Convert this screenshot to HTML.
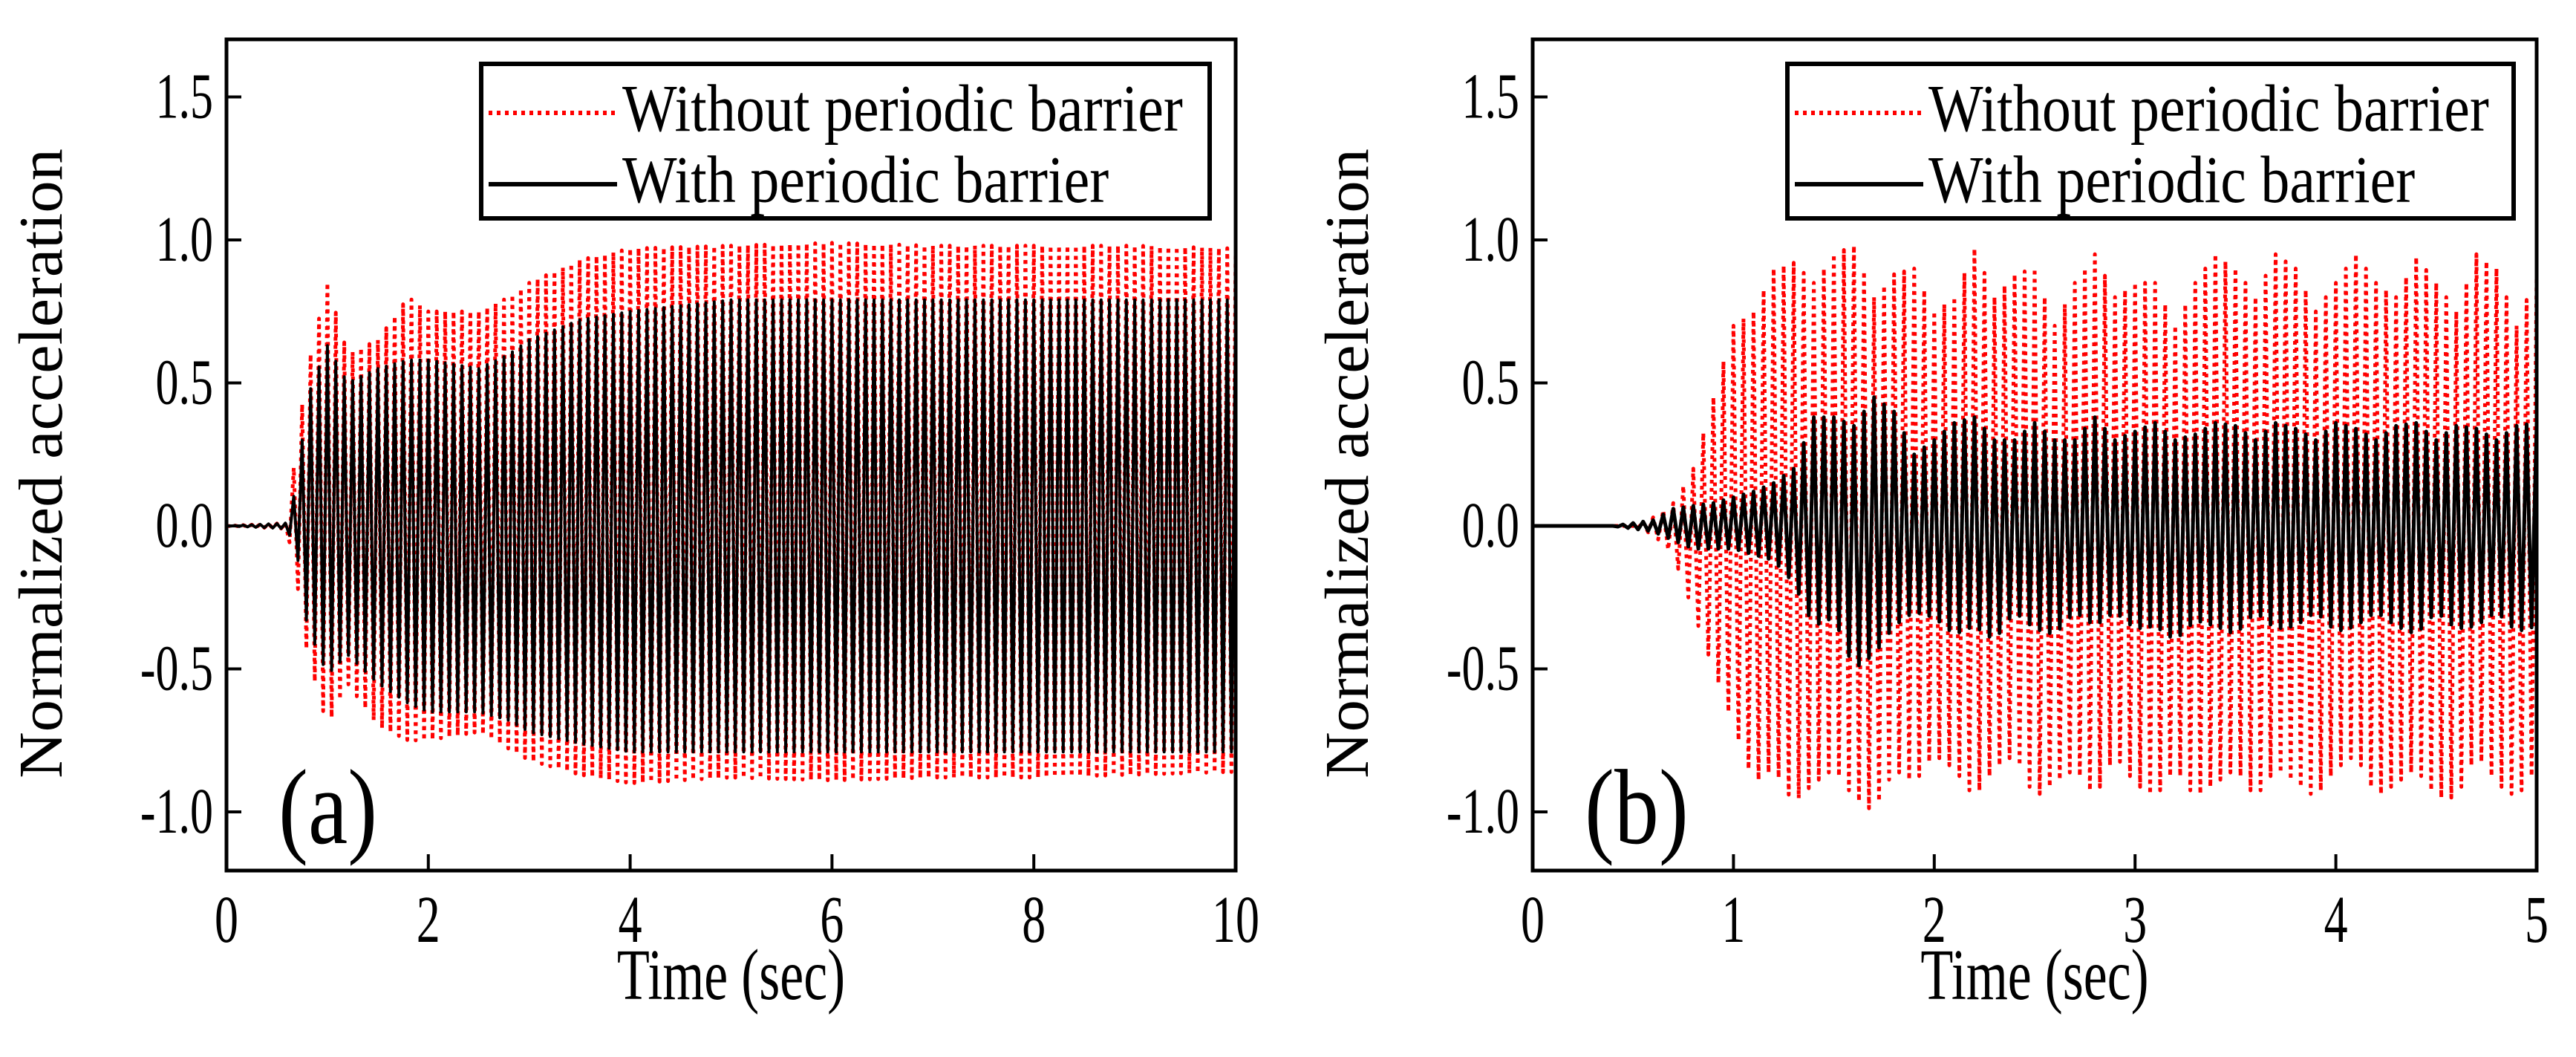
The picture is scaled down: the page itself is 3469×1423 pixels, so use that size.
<!DOCTYPE html>
<html><head><meta charset="utf-8"><style>
html,body{margin:0;padding:0;background:#fff;}
svg{display:block;font-family:"Liberation Serif",serif;}
</style></head><body>
<svg id="fig" width="3469" height="1423" viewBox="0 0 3469 1423" xmlns="http://www.w3.org/2000/svg"></svg>
<script>
// ---- Panel (a) data: envelopes (time in s, normalized acceleration) ----
const aTimes      = [0,0.6,0.7,0.8,1.0,1.2,1.5,1.8,2.0,2.5,2.8,3.0,3.5,4.0,5.0,6.0,7.0,8.0,9.0,10.0];
const aRedUpper   = [0,0.01,0.3,0.55,0.85,0.6,0.65,0.8,0.75,0.75,0.8,0.85,0.93,0.97,0.98,0.99,0.98,0.98,0.98,0.97];
const aRedLower   = [0,-0.01,-0.2,-0.45,-0.7,-0.55,-0.7,-0.75,-0.75,-0.72,-0.78,-0.82,-0.87,-0.9,-0.88,-0.89,-0.88,-0.88,-0.87,-0.86];
const aBlkUpper   = [0,0.01,0.15,0.45,0.63,0.5,0.55,0.58,0.58,0.55,0.6,0.65,0.72,0.75,0.79,0.79,0.79,0.79,0.79,0.79];
const aBlkLower   = [0,-0.01,-0.1,-0.35,-0.52,-0.45,-0.55,-0.62,-0.65,-0.65,-0.68,-0.72,-0.76,-0.79,-0.79,-0.79,-0.79,-0.79,-0.79,-0.79];
const aFreq = 12;
const aXTicks = [0,2,4,6,8,10];
// ---- Panel (b) data ----
const bTimes    = [0,0.1,0.2,0.3,0.4,0.5,0.6,0.7,0.8,0.9,1.0,1.1,1.2,1.3,1.4,1.5,1.6,1.7,1.8,1.9,2.0,2.1,2.2,2.3,2.4,2.5,2.6,2.7,2.8,2.9,3.0,3.1,3.2,3.3,3.4,3.5,3.6,3.7,3.8,3.9,4.0,4.1,4.2,4.3,4.4,4.5,4.6,4.7,4.8,4.9,5.0];
const bRedUpper = [0,0,0,0,0,0,0.03,0.08,0.2,0.45,0.7,0.75,0.9,0.92,0.85,0.95,0.98,0.8,0.88,0.9,0.75,0.8,0.97,0.8,0.88,0.9,0.7,0.85,0.95,0.8,0.85,0.85,0.7,0.85,0.95,0.9,0.8,0.95,0.9,0.75,0.85,0.95,0.85,0.8,0.94,0.85,0.75,0.95,0.9,0.7,0.88];
const bRedLower = [0,0,0,0,0,0,-0.03,-0.1,-0.3,-0.5,-0.7,-0.9,-0.85,-0.97,-0.9,-0.85,-0.95,-1.0,-0.85,-0.9,-0.8,-0.85,-0.95,-0.85,-0.8,-0.95,-0.9,-0.85,-0.95,-0.8,-0.9,-0.95,-0.85,-0.95,-0.9,-0.85,-0.95,-0.85,-0.9,-0.95,-0.85,-0.8,-0.95,-0.9,-0.85,-0.95,-0.95,-0.8,-0.9,-0.95,-0.85];
const bBlkUpper = [0,0,0,0,0,0.01,0.02,0.06,0.07,0.08,0.1,0.12,0.15,0.2,0.38,0.38,0.35,0.45,0.4,0.25,0.3,0.36,0.38,0.3,0.3,0.36,0.3,0.3,0.38,0.3,0.33,0.36,0.3,0.32,0.36,0.35,0.3,0.36,0.34,0.3,0.36,0.34,0.3,0.35,0.36,0.3,0.35,0.34,0.3,0.35,0.36];
const bBlkLower = [0,0,0,0,0,-0.01,-0.02,-0.05,-0.08,-0.08,-0.08,-0.1,-0.12,-0.2,-0.35,-0.32,-0.5,-0.45,-0.35,-0.3,-0.32,-0.38,-0.35,-0.4,-0.3,-0.36,-0.38,-0.3,-0.35,-0.3,-0.36,-0.35,-0.4,-0.33,-0.35,-0.38,-0.3,-0.36,-0.35,-0.3,-0.37,-0.35,-0.3,-0.35,-0.38,-0.3,-0.36,-0.35,-0.3,-0.37,-0.35];
const bFreq = 20;
const bXTicks = [0,1,2,3,4,5];
const yTicks = [1.5,1.0,0.5,0.0,-0.5,-1.0];

const NS="http://www.w3.org/2000/svg";
const svg=document.getElementById('fig');
function mk(tag,attrs,parent){const e=document.createElementNS(NS,tag);for(const k in attrs)e.setAttribute(k,attrs[k]);(parent||svg).appendChild(e);return e;}
function txt(parent,x,y,size,anchor,sy,str,extra){
  const t=mk('text',{x:0,y:0,'font-size':size,'text-anchor':anchor,transform:`translate(${x},${y}) ${extra||''} scale(1,${sy})`},parent);
  t.textContent=str;return t;
}
function interp(ts,vs,t){if(t<=ts[0])return vs[0];for(let i=1;i<ts.length;i++){if(t<=ts[i]){const f=(t-ts[i-1])/(ts[i]-ts[i-1]);return vs[i-1]+f*(vs[i]-vs[i-1]);}}return vs[vs.length-1];}

function panel(o){
  const g=mk('g',{});
  
  
  const L=o.left,R=o.right,T=53,B=1172,y0=708,yk=385;
  const X=t=>L+(t-o.xmin)/(o.xmax-o.xmin)*(R-L);
  const Y=v=>y0-v*yk;
  const clip=mk('clipPath',{id:'c'+o.id},g);mk('rect',{x:L,y:T,width:R-L,height:B-T},clip);
  function series(up,lo,freq,color,dash,w,name){
    let pts=[];const n=Math.floor(o.xmax*freq*2);
    for(let k=0;k<=n;k++){const t=k/(2*freq);const v=(k%2==0)?interp(o.times,up,t):interp(o.times,lo,t);pts.push(X(t).toFixed(1)+','+Y(v).toFixed(1));}
    const p=mk('polyline',{points:pts.join(' '),fill:'none',stroke:color,'stroke-width':w,'clip-path':'url(#c'+o.id+')','stroke-dasharray':dash||'none','stroke-linejoin':'round'},g);
    
    
  }
  series(o.ru,o.rl,o.freq,'#ff0000','5 6',5,'series-without-barrier');
  series(o.bu,o.bl,o.freq,'#000000',null,o.bw,'series-with-barrier');
  const fr=mk('rect',{x:L,y:T,width:R-L,height:B-T,fill:'none',stroke:'#000','stroke-width':5},g);
  
  yTicks.forEach(v=>{
    mk('line',{x1:L,x2:L+20,y1:Y(v),y2:Y(v),stroke:'#000','stroke-width':4},g);
    const t=txt(g,L-18,Y(v)+28,62,'end',1.4,v.toFixed(1));
    
  });
  o.xticks.forEach(v=>{
    mk('line',{x1:X(v),x2:X(v),y1:B,y2:B-22,stroke:'#000','stroke-width':4},g);
    const t=txt(g,X(v),1268,64,'middle',1.4,String(v));
    
  });
  const xt=txt(g,(L+R)/2,1345,72,'middle',1.35,'Time (sec)');
  
  const yt=mk('text',{x:0,y:0,'font-size':84,'text-anchor':'middle',transform:`translate(${L-222},624) rotate(-90) scale(1.03,1)`},g);yt.textContent='Normalized acceleration';
  
  const pl=txt(g,L+70,1135,120,'start',1.2,o.label);
  
  // legend
  const lg=mk('g',{},g);
  mk('rect',{x:o.lx,y:86,width:o.lw,height:208,fill:'#fff',stroke:'#000','stroke-width':6},lg);
  mk('line',{x1:o.lx+10,x2:o.lx+183,y1:152,y2:152,stroke:'#ff0000','stroke-width':6,'stroke-dasharray':'5 6'},lg);
  mk('line',{x1:o.lx+10,x2:o.lx+183,y1:248,y2:248,stroke:'#000','stroke-width':6},lg);
  const l1=txt(lg,o.lx+190,176,78,'start',1.15,'Without periodic barrier');
  
  const l2=txt(lg,o.lx+190,272,78,'start',1.15,'With periodic barrier');
  
}
panel({id:'a',name:'panel-a',left:305,right:1664,xmin:0,xmax:10,times:aTimes,ru:aRedUpper,rl:aRedLower,bu:aBlkUpper,bl:aBlkLower,freq:aFreq,bw:4,xticks:aXTicks,label:'(a)',lx:648,lw:981});
panel({id:'b',name:'panel-b',left:2064,right:3416,xmin:0,xmax:5,times:bTimes,ru:bRedUpper,rl:bRedLower,bu:bBlkUpper,bl:bBlkLower,freq:bFreq,bw:5,xticks:bXTicks,label:'(b)',lx:2407,lw:978});
</script>
</body></html>
